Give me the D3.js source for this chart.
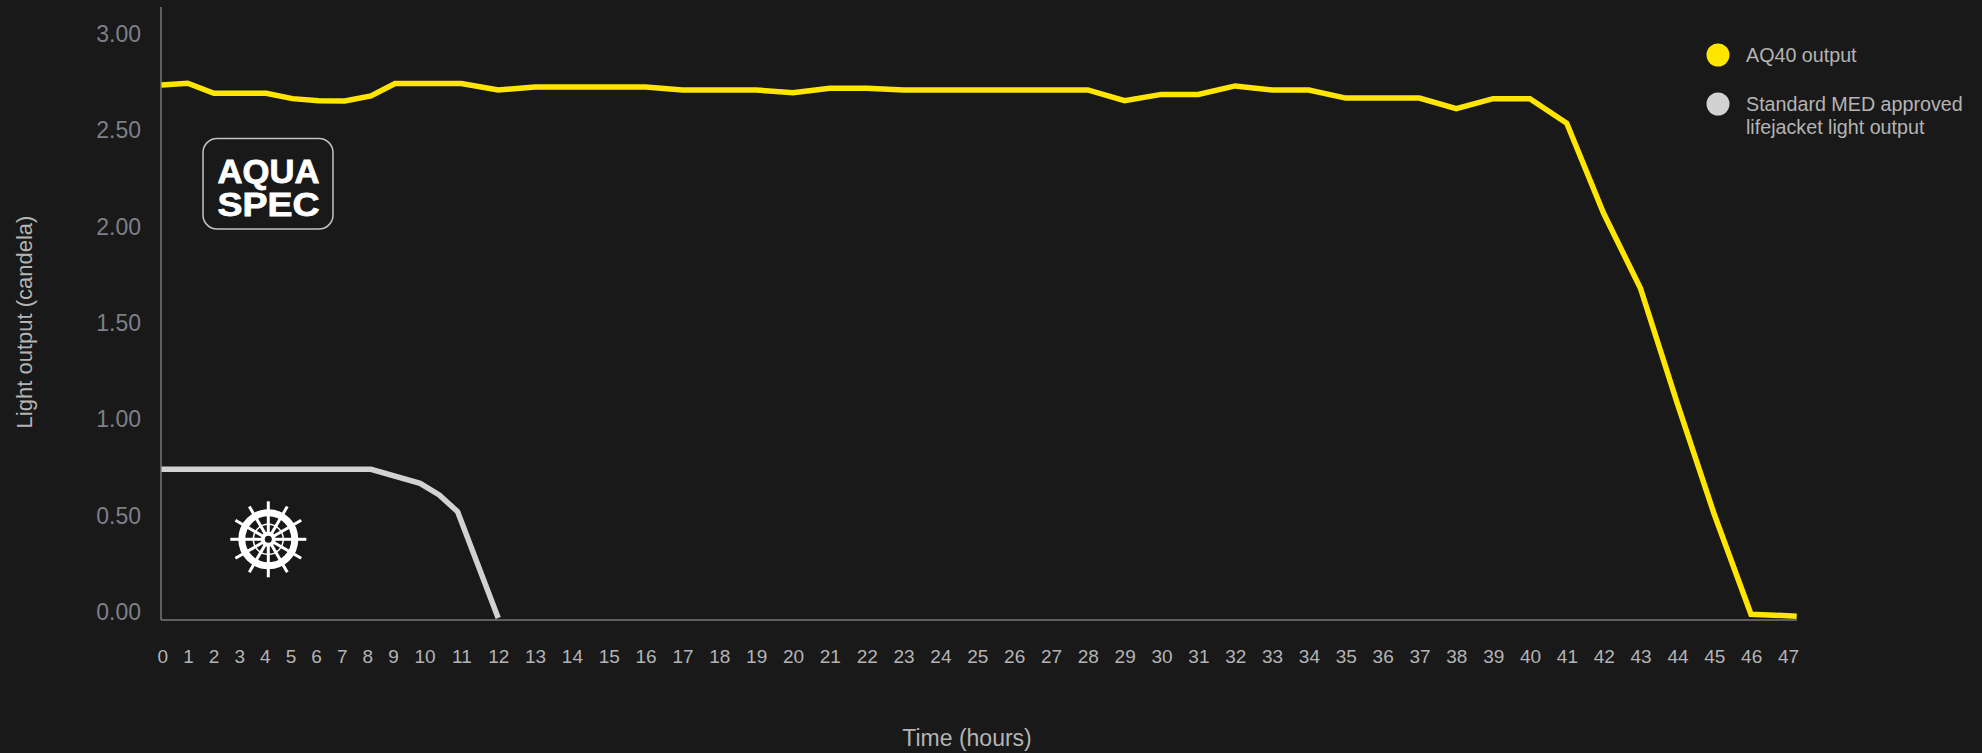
<!DOCTYPE html>
<html>
<head>
<meta charset="utf-8">
<title>AQ40 light output</title>
<script src="https://cdnjs.cloudflare.com/ajax/libs/d3/7.8.5/d3.min.js"></script>
<style>
  html, body { margin: 0; padding: 0; background: #191919; overflow: hidden; }
  text { font-family: "Liberation Sans", Arial, sans-serif; }
</style>
</head>
<body>
<div id="chart"></div>
<script>
var hours = d3.range(0, 48);
var yTicks = [0, 0.5, 1, 1.5, 2, 2.5, 3];

// AQ40 output, one reading per hour
var aq40 = [2.777, 2.786, 2.734, 2.734, 2.734, 2.706, 2.695, 2.694, 2.720, 2.784,
            2.784, 2.784, 2.751, 2.766, 2.766, 2.766, 2.766, 2.751, 2.751, 2.751,
            2.737, 2.760, 2.760, 2.751, 2.751, 2.751, 2.751, 2.751, 2.751, 2.695,
            2.728, 2.728, 2.772, 2.751, 2.751, 2.709, 2.709, 2.709, 2.654, 2.706,
            2.706, 2.578, 2.111, 1.722, 1.124, 0.550, 0.030, 0.020];

// standard light, readings are not on the hour after 8
var medHours = [0, 1, 2, 3, 4, 5, 6, 7, 8, 9.85, 10.4, 10.9, 12];
var med = [0.782, 0.782, 0.782, 0.782, 0.782, 0.782, 0.782, 0.782, 0.782, 0.709, 0.649, 0.562, 0.01];

var legendLabels = [["AQ40 output"], ["Standard MED approved", "lifejacket light output"]];
var legendColors = ["#ffe600", "#d2d2d2"];

var width = 1982, height = 753;

var svg = d3.select("#chart").append("svg")
  .attr("width", width)
  .attr("height", height)
  .style("display", "block");

// the hour slots in the original are not even: single digits sit closer together
var x = d3.scaleLinear().domain([0, 8, 9, 10, 46, 47]).range([161.5, 371, 395, 424.5, 1751, 1796.7]);
var xLabels = d3.scaleLinear().domain([0, 9, 10, 47]).range([162.3, 393, 424.5, 1788]);
var y = d3.scaleLinear().domain([0, 3]).range([620, 42]);

var xAxis = d3.axisBottom(xLabels).tickValues(hours).tickSize(0).tickPadding(30).tickFormat(d3.format("d"));
var yAxis = d3.axisLeft(y).tickValues(yTicks).tickSize(0).tickPadding(20).tickFormat(d3.format(".2f"));

svg.append("g")
  .attr("class", "x axis")
  .attr("transform", "translate(0,620)")
  .call(xAxis)
  .call(g => g.select(".domain").remove())
  .selectAll("text")
  .style("font-size", "19px")
  .style("fill", "#b4b4b4");

svg.append("g")
  .attr("class", "y axis")
  .attr("transform", "translate(161,0)")
  .call(yAxis)
  .call(g => g.select(".domain").remove())
  .selectAll("text")
  .attr("dy", "-0.02em")
  .style("font-size", "23px")
  .style("fill", "#7d8087");

// axis lines
svg.append("line").attr("x1", 161).attr("x2", 161).attr("y1", 7).attr("y2", 620)
  .style("stroke", "#777").style("stroke-width", 1.5);
svg.append("line").attr("x1", 161).attr("x2", 1797).attr("y1", 620).attr("y2", 620)
  .style("stroke", "#777").style("stroke-width", 1.5);

// axis titles
svg.append("text")
  .attr("x", 967).attr("y", 746)
  .attr("text-anchor", "middle")
  .style("font-size", "23px").style("fill", "#b4b4b4")
  .text("Time (hours)");

svg.append("text")
  .attr("transform", "translate(32,322) rotate(-90)")
  .attr("text-anchor", "middle")
  .style("font-size", "22px").style("fill", "#b4b4b4")
  .text("Light output (candela)");

// lines
var line = d3.line().x(d => x(d[0])).y(d => y(d[1]));

svg.append("path")
  .datum(d3.zip(medHours, med))
  .attr("d", line)
  .style("fill", "none").style("stroke", legendColors[1]).style("stroke-width", 5.5);

svg.append("path")
  .datum(d3.zip(hours, aq40))
  .attr("d", line)
  .style("fill", "none").style("stroke", legendColors[0]).style("stroke-width", 5.5);

// legend
var legendY = [55, 104];
var legend = svg.selectAll(".legend")
  .data(legendLabels)
  .enter().append("g")
  .attr("class", "legend")
  .attr("transform", (d, i) => `translate(1718,${legendY[i]})`);

legend.append("circle").attr("r", 11.5).style("fill", (d, i) => legendColors[i]);

legend.each(function(d) {
  d3.select(this).selectAll("text")
    .data(d)
    .enter().append("text")
    .attr("x", 28)
    .attr("y", (t, i) => 7 + i * 23)
    .style("font-size", "19.7px")
    .style("fill", "#b4b4b4")
    .text(t => t);
});

// AQUA SPEC badge
var badge = svg.append("g").attr("class", "badge");
badge.append("rect")
  .attr("x", 203).attr("y", 138.5).attr("width", 130).attr("height", 90.5).attr("rx", 14)
  .style("fill", "none").style("stroke", "#c4c4c4").style("stroke-width", 1.5);
badge.selectAll(".word").data(["AQUA", "SPEC"]).enter().append("text")
  .attr("class", "word")
  .attr("x", 268.5)
  .attr("y", (d, i) => i ? 215.5 : 183)
  .attr("text-anchor", "middle").attr("textLength", 102).attr("lengthAdjust", "spacingAndGlyphs")
  .style("font-size", "34px").style("font-weight", "bold")
  .style("fill", "#fff").style("stroke", "#fff").style("stroke-width", 0.8)
  .text(d => d);

// ship's wheel
var wheel = svg.append("g").attr("class", "wheel").attr("transform", "translate(268.3,539.3)");
var angles = d3.range(0, 360, 30);
wheel.selectAll(".handle").data(angles).enter().append("line")
  .attr("class", "handle")
  .attr("transform", d => `rotate(${d})`)
  .attr("x1", 0).attr("x2", 0).attr("y1", -27).attr("y2", -38)
  .style("stroke", "#fff").style("stroke-width", 3);
wheel.selectAll(".spoke").data(angles).enter().append("line")
  .attr("class", "spoke")
  .attr("transform", d => `rotate(${d})`)
  .attr("x1", 0).attr("x2", 0).attr("y1", -6).attr("y2", -24)
  .style("stroke", "#fff").style("stroke-width", 3);
wheel.append("circle").attr("r", 26.5)
  .style("fill", "none").style("stroke", "#fff").style("stroke-width", 7);
wheel.append("circle").attr("r", 15)
  .style("fill", "none").style("stroke", "#fff").style("stroke-width", 1.5);
wheel.append("circle").attr("r", 7.5).style("fill", "#fff");
wheel.append("circle").attr("r", 3.5).style("fill", "#191919");
</script>
</body>
</html>
